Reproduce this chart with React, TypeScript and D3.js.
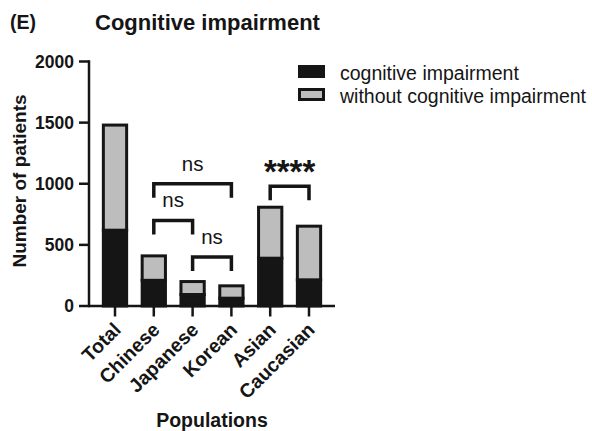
import React from "react";
import * as d3 from "d3";

// Populations on the x axis
const categories = ["Total", "Chinese", "Japanese", "Korean", "Asian", "Caucasian"];
// Patients with cognitive impairment (bottom segment)
const impaired = [620, 210, 94, 64, 391, 214];
// Patients without cognitive impairment (top segment)
const notImpaired = [860, 200, 106, 101, 417, 439];
// Y axis ticks
const yTicks = [0, 500, 1000, 1500, 2000];
// Significance brackets: [from, to, bracket level, label]
const comparisons: [string, string, number, string][] = [
  ["Chinese", "Korean", 1000, "ns"],
  ["Chinese", "Japanese", 700, "ns"],
  ["Japanese", "Korean", 400, "ns"],
  ["Asian", "Caucasian", 980, "****"],
];
const seriesNames = ["cognitive impairment", "without cognitive impairment"];

const W = 592;
const H = 431;
const BLACK = "#151515";
const GRAY = "#bdbdbd";
const FONT = "'Liberation Sans', Arial, Helvetica, sans-serif";

export default function App() {
  const x = d3.scalePoint<string>().domain(categories).range([89, 335]).padding(0.67);
  const y = d3.scaleLinear().domain([0, 2000]).range([306, 61.5]);
  const barW = x.step() * 0.6;

  const rows = categories.map((c, i) => ({ cat: c, impaired: impaired[i], notImpaired: notImpaired[i] }));
  const stack = d3.stack<any>().keys(["impaired", "notImpaired"])(rows);
  const fills = [BLACK, GRAY];

  const drop = 14;

  return (
    <div style={{ position: "absolute", left: 0, top: 0 }}>
      <svg width={W} height={H} style={{ display: "block", background: "#fff" }} fontFamily={FONT}>
        {/* titles */}
        <text x={10} y={28.5} fontSize={19.5} fontWeight="bold" fill={BLACK}>(E)</text>
        <text x={95} y={30} fontSize={22} fontWeight="bold" fill={BLACK}>Cognitive impairment</text>

        {/* stacked bars */}
        {stack.map((layer, li) =>
          layer.map((d, i) => (
            <rect
              key={`${li}-${i}`}
              x={(x(categories[i]) as number) - barW / 2}
              y={y(d[1])}
              width={barW}
              height={y(d[0]) - y(d[1])}
              fill={fills[li]}
              stroke={BLACK}
              strokeWidth={3}
            />
          ))
        )}

        {/* y axis */}
        <line x1={89} x2={89} y1={y(2000) - 1.25} y2={y(0) + 1.25} stroke={BLACK} strokeWidth={2.5} />
        {yTicks.map((t) => (
          <g key={t}>
            <line x1={79} x2={89} y1={y(t)} y2={y(t)} stroke={BLACK} strokeWidth={2.5} />
            <text x={74} y={y(t)} dy="0.35em" textAnchor="end" fontSize={17.5} fontWeight="bold" fill={BLACK}>
              {t}
            </text>
          </g>
        ))}

        {/* x axis */}
        <line x1={89} x2={335} y1={y(0)} y2={y(0)} stroke={BLACK} strokeWidth={2.5} />
        {categories.map((c) => (
          <g key={c}>
            <line x1={x(c)} x2={x(c)} y1={y(0)} y2={y(0) + 10.5} stroke={BLACK} strokeWidth={2.5} />
            <text
              transform={`translate(${(x(c) as number) + 7},${331}) rotate(-45)`}
              textAnchor="end"
              fontSize={19.5}
              fontWeight="bold"
              fill={BLACK}
            >
              {c}
            </text>
          </g>
        ))}

        {/* axis titles */}
        <text
          transform={`translate(26,181) rotate(-90)`}
          textAnchor="middle"
          fontSize={19}
          fontWeight="bold"
          fill={BLACK}
        >
          Number of patients
        </text>
        <text x={212} y={426.5} textAnchor="middle" fontSize={19.5} fontWeight="bold" fill={BLACK}>
          Populations
        </text>

        {/* significance brackets */}
        {comparisons.map(([a, b, lvl, label], i) => {
          const x1 = x(a) as number;
          const x2 = x(b) as number;
          const ly = y(lvl);
          const stars = label !== "ns";
          return (
            <g key={i}>
              <path
                d={`M${x1},${ly + drop} L${x1},${ly} L${x2},${ly} L${x2},${ly + drop}`}
                fill="none"
                stroke={BLACK}
                strokeWidth={3.5}
              />
              <text
                x={(x1 + x2) / 2}
                y={stars ? ly - 3 : ly - 13}
                textAnchor="middle"
                fontSize={stars ? 33 : 20.5}
                fontWeight={stars ? "bold" : "normal"}
                fill={BLACK}
              >
                {label}
              </text>
            </g>
          );
        })}

        {/* legend */}
        {seriesNames.map((name, i) => (
          <g key={name}>
            <rect x={299.5} y={66.5 + i * 23} width={24} height={10} fill={fills[i]} stroke={BLACK} strokeWidth={3} />
            <text x={340} y={79.5 + i * 23} fontSize={19.5} fill={BLACK}>
              {name}
            </text>
          </g>
        ))}
      </svg>
    </div>
  );
}
